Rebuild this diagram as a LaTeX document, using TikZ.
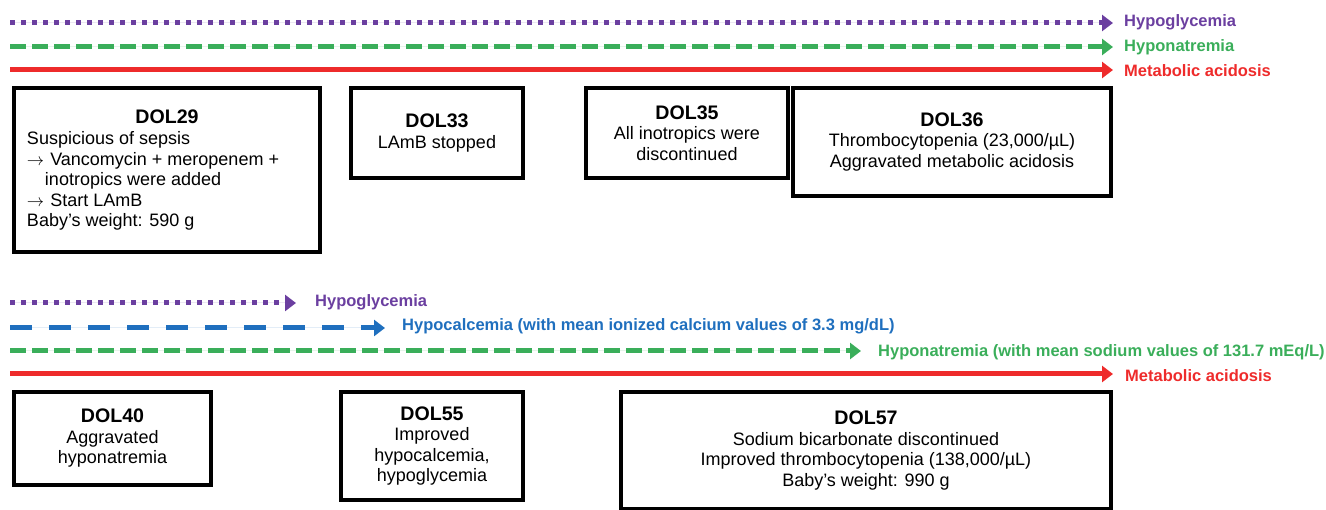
\documentclass[tikz,border=0pt]{standalone}
\usepackage{fontspec}
\setmainfont{Liberation Sans}
\usetikzlibrary{arrows.meta}
\definecolor{cpur}{HTML}{6B3FA0}
\definecolor{cgrn}{HTML}{3AAE5A}
\definecolor{cred}{HTML}{EE2B2B}
\definecolor{cblu}{HTML}{1F6FBE}
\newcommand\mybody{\fontsize{18}{20.5}\selectfont}
\newcommand\mytitle{\fontsize{19.6}{22}\selectfont\bfseries}
\newcommand\mylbl{\fontsize{16.5}{19}\selectfont\bfseries}
\newcommand\myarr{$\rightarrow$\hspace{1pt}}
\begin{document}
\begin{tikzpicture}[x=1pt,y=-1pt,
  box/.style={draw=black, line width=4pt, inner sep=0pt, anchor=north west, align=center, font=\mybody},
  lbl/.style={anchor=base west, inner sep=0pt, font=\mylbl},
  ln/.style={line width=5pt, line cap=butt, -{Triangle[length=11pt,width=16pt]}},
  dotline/.style={ln, dash pattern=on 5pt off 6pt},
  dashline/.style={ln, dash pattern=on 16pt off 6pt},
  longdash/.style={ln, dash pattern=on 22pt off 17pt}]
\useasboundingbox (0,0) rectangle (1326,510);

% ---------- top arrows ----------
\coordinate (ts1) at (10,23);  \coordinate (te1) at (1113,23);
\coordinate (ts2) at (10,47);  \coordinate (te2) at (1113,47);
\coordinate (ts3) at (10,70);  \coordinate (te3) at (1113,70);
\draw[dotline, draw=cpur, fill=cpur] (ts1) -- (te1);
\draw[dashline, draw=cgrn, fill=cgrn] (ts2) -- (te2);
\draw[ln, draw=cred, fill=cred] (ts3) -- (te3);
\node[lbl, text=cpur] (tl1) at (1124,27) {Hypoglycemia};
\node[lbl, text=cgrn] (tl2) at (1124,52) {Hyponatremia};
\node[lbl, text=cred] (tl3) at (1124,77) {Metabolic acidosis};

% ---------- top boxes ----------
\node[box, minimum width=306pt, minimum height=164pt] (d29) at (12,86)
 {{\mytitle DOL29}\\[1pt]
  \parbox[t]{280pt}{\raggedright\mybody Suspicious of sepsis\\
  \myarr{} Vancomycin + meropenem +\\
  \hspace*{18pt}inotropics were added\\
  \myarr{} Start LAmB\\
  Baby’s weight: 590 g}};
\node[box, minimum width=172pt, minimum height=90pt] (d33) at (349,86)
 {{\mytitle DOL33}\\ LAmB stopped};
\node[box, minimum width=202pt, minimum height=90pt] (d35) at (584,86)
 {{\mytitle DOL35}\\ All inotropics were\\ discontinued};
\node[box, minimum width=318pt, minimum height=108pt] (d36) at (791,86)
 {{\mytitle DOL36}\\ Thrombocytopenia (23,000/µL)\\ Aggravated metabolic acidosis};

% ---------- bottom arrows ----------
\coordinate (bs1) at (10,303); \coordinate (be1) at (296,303);
\coordinate (bs2) at (10,328); \coordinate (be2) at (385,328);
\coordinate (bs3) at (10,351); \coordinate (be3) at (861,351);
\coordinate (bs4) at (10,374); \coordinate (be4) at (1113,374);
\draw[dotline, draw=cpur, fill=cpur] (bs1) -- (be1);
\draw[longdash, draw=cblu, fill=cblu] (bs2) -- (be2);
\draw[dashline, draw=cgrn, fill=cgrn] (bs3) -- (be3);
\draw[ln, draw=cred, fill=cred] (bs4) -- (be4);
\node[lbl, text=cpur] (bl1) at (315,307) {Hypoglycemia};
\node[lbl, text=cblu] (bl2) at (402,331) {Hypocalcemia (with mean ionized calcium values of 3.3 mg/dL)};
\node[lbl, text=cgrn] (bl3) at (878,357) {Hyponatremia (with mean sodium values of 131.7 mEq/L)};
\node[lbl, text=cred] (bl4) at (1125,382) {Metabolic acidosis};

% ---------- bottom boxes ----------
\node[box, minimum width=197pt, minimum height=93pt] (d40) at (12,390)
 {{\mytitle DOL40}\\ Aggravated\\ hyponatremia};
\node[box, minimum width=182pt, minimum height=108pt] (d55) at (339,390)
 {{\mytitle DOL55}\\ Improved\\ hypocalcemia,\\ hypoglycemia};
\node[box, minimum width=490pt, minimum height=117pt] (d57) at (619,390)
 {{\mytitle DOL57}\\ Sodium bicarbonate discontinued\\ Improved thrombocytopenia (138,000/µL)\\ Baby’s weight: 990 g};
\end{tikzpicture}
\end{document}
